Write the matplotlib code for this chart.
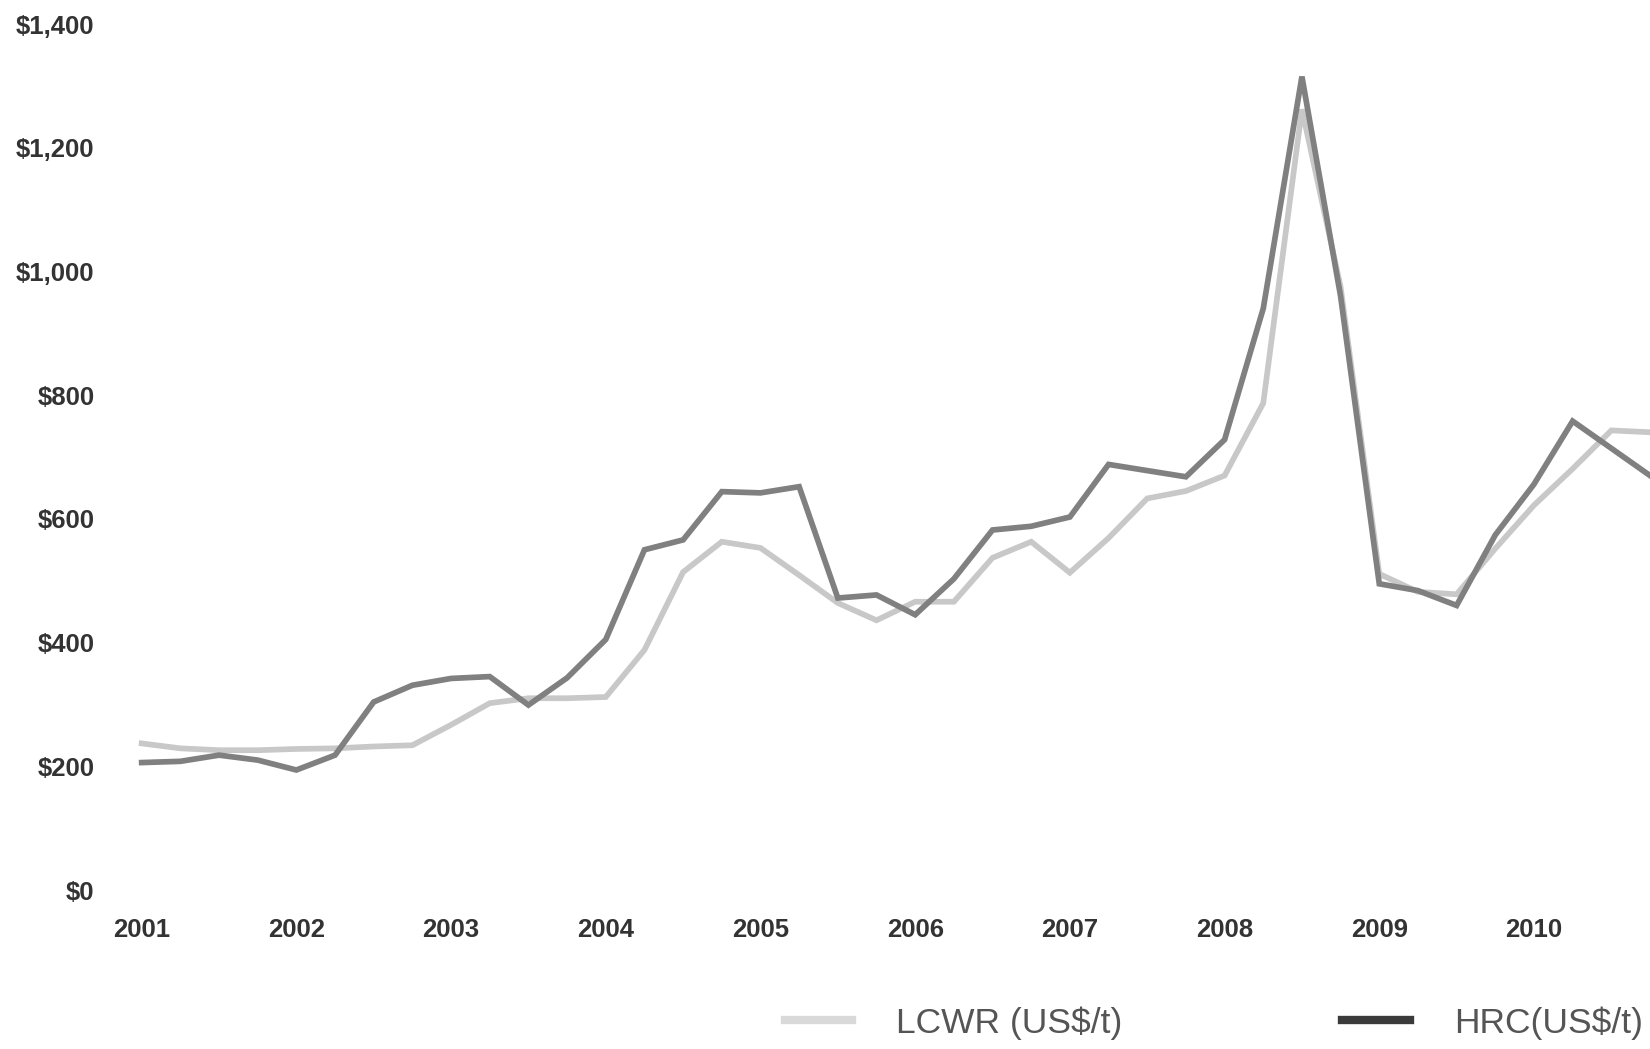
import matplotlib.pyplot as plt
from matplotlib.lines import Line2D
from matplotlib.ticker import FuncFormatter

# quarterly steel prices, 2001 Q1 .. 2010 Q4
quarters = [2001 + q / 4 for q in range(40)]

lcwr = [237, 229, 226, 226, 228, 229, 232, 234, 267, 302,
        310, 310, 312, 388, 514, 563, 553, 509, 464, 436,
        466, 466, 537, 563, 513, 569, 633, 645, 670, 787,
        1262, 975, 511, 482, 478, 552, 622, 681, 743, 740]

hrc = [206, 208, 218, 210, 194, 218, 304, 331, 342, 345,
       299, 343, 405, 550, 566, 644, 642, 652, 472, 477,
       445, 503, 582, 588, 603, 688, 678, 668, 728, 940,
       1315, 960, 495, 484, 460, 574, 656, 758, 714, 670]

years = list(range(2001, 2011))
yticks = list(range(0, 1401, 200))

plt.rcParams['font.family'] = ['Liberation Sans', 'DejaVu Sans']

fig = plt.figure(figsize=(16.5, 10.49), dpi=100)
ax = fig.add_axes([103 / 1650, 159 / 1049, 1547 / 1650, 866 / 1049])

ax.plot(quarters, lcwr, color='#c8c8c8', lw=4.1, solid_joinstyle='miter', clip_on=False)
ax.plot(quarters, hrc, color='#808080', lw=4.1, solid_joinstyle='miter', clip_on=False)

ax.set_xlim(2000.75, 2010.75)
ax.set_ylim(0, 1400)
ax.set_xticks(years)
ax.set_yticks(yticks)
ax.yaxis.set_major_formatter(FuncFormatter(lambda v, p: f"${v:,.0f}"))
ax.tick_params(axis='both', length=0, labelsize=18.5, labelcolor='#333333')
ax.tick_params(axis='x', pad=20)
ax.tick_params(axis='y', pad=6)
for lab in ax.get_xticklabels() + ax.get_yticklabels():
    lab.set_fontweight('bold')
for s in ax.spines.values():
    s.set_visible(False)

handles = [Line2D([], [], color='#d9d9d9', lw=6),
           Line2D([], [], color='#3a3a3a', lw=6)]
fig.legend(handles, ['LCWR (US$/t)', 'HRC(US$/t)'], ncol=2, frameon=False,
           loc='center right', bbox_to_anchor=(1643 / 1650, 26 / 1049),
           borderpad=0, borderaxespad=0, handlelength=1.9, handletextpad=1.25,
           columnspacing=6.2,
           prop={'family': 'Liberation Sans', 'size': 25.5},
           labelcolor='#555555')

fig.savefig('out.png', dpi=100, facecolor='white')
